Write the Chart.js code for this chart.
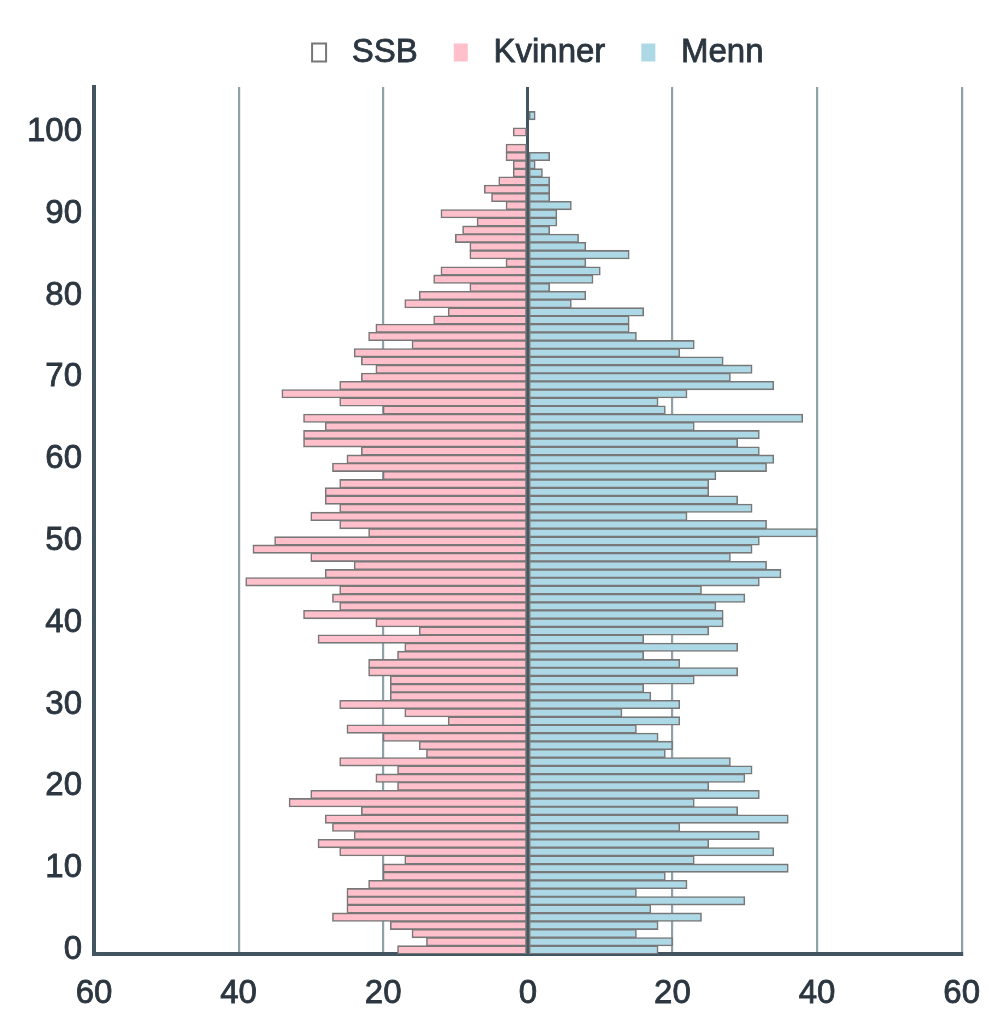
<!DOCTYPE html>
<html>
<head>
<meta charset="utf-8">
<script src="https://cdn.jsdelivr.net/npm/chart.js@4/dist/chart.umd.min.js"></script>
<style>
  html, body { margin: 0; padding: 0; background: #ffffff; }
  #wrap { width: 1000px; height: 1027px; }
</style>
</head>
<body>
<div id="wrap"><canvas id="c" width="1000" height="1027"></canvas></div>
<script>
// Ages 0..105 (category labels)
const ages = Array.from({length: 106}, (_, i) => String(i));

// Women per age (0..102)
const kvinner = [18,14,16,19,27,25,25,25,22,20,20,17,26,29,24,27,28,23,33,30,
                 18,21,18,26,14,15,20,25,11,17,26,19,19,19,22,22,18,17,29,15,
                 21,31,26,27,26,39,28,24,30,38,35,22,26,30,26,28,28,26,20,27,
                 25,23,31,31,28,31,20,26,34,26,23,21,23,24,16,22,21,13,11,17,
                 15,8,13,12,3,8,8,10,9,7,12,3,5,6,4,2,2,3,3,0,
                 2,0,0];
// Men per age (0..102)
const menn = [18,20,15,18,24,17,30,15,22,19,36,23,34,25,32,21,36,29,23,32,
              25,30,31,28,19,20,18,15,21,13,21,17,16,23,29,21,16,29,16,25,
              27,27,26,30,24,32,35,33,28,31,32,40,33,22,31,29,25,25,26,33,
              34,32,29,32,23,38,19,18,22,34,28,31,27,21,23,15,14,14,16,6,
              8,3,9,10,8,14,8,7,3,4,4,6,3,3,3,2,1,3,0,0,
              0,0,1];

const xTicks = [-60, -40, -20, 0, 20, 40, 60];

const FONT = "'Liberation Sans', Arial, Helvetica, sans-serif";
const TEXT = '#2b3640';
const DARK = '#435560';
const GRID = '#8fa2aa';
const BORDER = '#787878';

const womenData = ages.map((a, i) => (kvinner[i] ? -kvinner[i] : null));
const menData = ages.map((a, i) => (menn[i] ? menn[i] : null));

const legendFixPlugin = {
  id: 'legendFix',
  beforeLayout(chart) {
    const lg = chart.legend;
    if (lg && !lg._patched) {
      const origFit = lg.fit.bind(lg);
      lg.fit = function () { origFit(); this.height = 87; };
      const origDraw = lg.draw.bind(lg);
      lg.draw = function () {
        const ctx = this.ctx;
        ctx.save();
        ctx.translate(10, 0);
        const origFill = ctx.fillText;
        ctx.fillText = function (t, x, y, m) {
          origFill.call(this, t, x, y, m);
          this.save();
          this.lineWidth = 0.8;
          this.strokeStyle = this.fillStyle;
          this.strokeText(t, x, y);
          this.restore();
        };
        origDraw();
        delete ctx.fillText;
        ctx.restore();
      };
      lg._patched = true;
    }
  }
};

new Chart(document.getElementById('c'), {
  type: 'bar',
  data: {
    labels: ages,
    datasets: [
      { label: 'SSB', data: [], backgroundColor: 'rgba(0,0,0,0)', borderColor: BORDER, borderWidth: 2 },
      { label: 'Kvinner', data: womenData, backgroundColor: '#ffc0cb', borderColor: BORDER, borderWidth: 1.6, borderSkipped: false, inflateAmount: 0.5 },
      { label: 'Menn', data: menData, backgroundColor: '#add8e6', borderColor: BORDER, borderWidth: 1.6, borderSkipped: false, inflateAmount: 0.5 }
    ]
  },
  options: {
    indexAxis: 'y',
    responsive: false,
    animation: false,
    layout: { padding: { left: 0, right: 37, top: 0, bottom: 0 } },
    datasets: { bar: { barPercentage: 1, categoryPercentage: 1 } },
    plugins: {
      tooltip: { enabled: false },
      legend: {
        position: 'top',
        fullSize: false,
        labels: {
          font: { family: FONT, size: 33 },
          color: TEXT,
          boxWidth: 14,
          boxHeight: 18,
          padding: 36,
          generateLabels(chart) {
            const items = Chart.defaults.plugins.legend.labels.generateLabels(chart);
            return items.map((it, i) => {
              it.text = ' ' + it.text;
              if (i === 0) { it.fillStyle = '#ffffff'; it.strokeStyle = '#777777'; it.lineWidth = 2; }
              else { it.strokeStyle = it.fillStyle; it.lineWidth = 0; }
              return it;
            });
          }
        }
      }
    },
    scales: {
      x: {
        type: 'linear',
        stacked: true,
        min: -60, max: 60,
        afterBuildTicks(scale) { scale.ticks = xTicks.map(v => ({ value: v })); },
        afterFit(scale) { scale.height = 73; },
        ticks: {
          callback: v => String(Math.abs(v)),
          font: { family: FONT, size: 33 },
          color: TEXT,
          textStrokeColor: TEXT,
          textStrokeWidth: 0.8,
          padding: 20,
          maxRotation: 0
        },
        grid: {
          drawTicks: false,
          color: ctx => (ctx.tick && ctx.tick.value === 0 ? DARK : GRID),
          lineWidth: ctx => (ctx.tick && ctx.tick.value === 0 ? 3 : 2.2)
        },
        border: { display: true, color: DARK, width: 4 }
      },
      y: {
        type: 'category',
        stacked: true,
        reverse: true,
        afterFit(scale) { scale.width = 94; },
        ticks: {
          autoSkip: false,
          callback(val, idx) { return idx % 10 === 0 ? this.getLabelForValue(val) : null; },
          font: { family: FONT, size: 33 },
          color: TEXT,
          textStrokeColor: TEXT,
          textStrokeWidth: 0.8,
          padding: 12
        },
        grid: { display: false, drawTicks: false },
        border: { display: true, color: DARK, width: 4 }
      }
    }
  },
  plugins: [legendFixPlugin]
});
</script>
</body>
</html>
